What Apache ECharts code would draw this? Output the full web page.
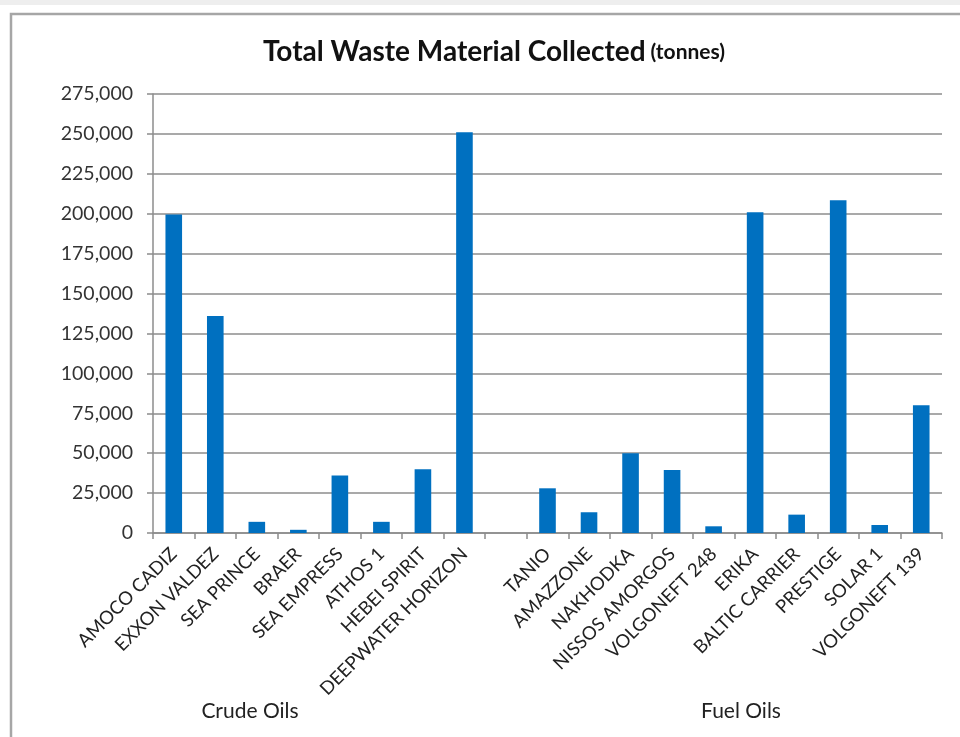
<!DOCTYPE html>
<html>
<head>
<meta charset="utf-8">
<script src="https://cdn.jsdelivr.net/npm/echarts@6/dist/echarts.min.js"></script>
<style>
  html, body { margin: 0; padding: 0; background: #fff; }
  #chart { width: 960px; height: 737px; }
</style>
</head>
<body>
<div id="chart"></div>
<script>
// 数据
const crudeOils = ['AMOCO CADIZ', 'EXXON VALDEZ', 'SEA PRINCE', 'BRAER', 'SEA EMPRESS', 'ATHOS 1', 'HEBEI SPIRIT', 'DEEPWATER HORIZON'];
const crudeValues = [199500, 136000, 7000, 2000, 36000, 7000, 40000, 251000];
const fuelOils = ['TANIO', 'AMAZZONE', 'NAKHODKA', 'NISSOS AMORGOS', 'VOLGONEFT 248', 'ERIKA', 'BALTIC CARRIER', 'PRESTIGE', 'SOLAR 1', 'VOLGONEFT 139'];
const fuelValues = [28000, 13000, 50000, 39500, 4200, 201000, 11500, 208500, 5000, 80000];
const groupNames = ['Crude Oils', 'Fuel Oils'];

// 两组之间留一个空位
const categories = [...crudeOils, '', ...fuelOils];
const values = [...crudeValues, null, ...fuelValues];

const FONT = 'Lato, "Noto Sans", sans-serif';

const chart = echarts.init(document.getElementById('chart'));

const option = {
    backgroundColor: '#fff',
    animation: false,
    title: {
        text: '{a|Total Waste Material Collected} {b|(tonnes)}',
        left: 489,
        top: 33,
        textAlign: 'center',
        textStyle: {
            rich: {
                a: { fontFamily: FONT, fontWeight: 'bold', fontSize: 28, color: '#111' },
                b: { fontFamily: FONT, fontWeight: 'bold', fontSize: 21, color: '#111' }
            }
        }
    },
    grid: { left: 153, right: 18, top: 94, bottom: 204, containLabel: false },
    xAxis: {
        type: 'category',
        data: categories,
        axisLine: { lineStyle: { color: '#8c8c8c', width: 1.5 } },
        axisTick: { show: true, length: 6, lineStyle: { color: '#8c8c8c', width: 1.5 } },
        axisLabel: {
            interval: 0,
            rotate: 45,
            margin: 18,
            fontFamily: FONT,
            fontSize: 18.5,
            color: '#222'
        }
    },
    yAxis: {
        type: 'value',
        min: 0,
        max: 275000,
        interval: 25000,
        axisLine: { show: true, lineStyle: { color: '#8c8c8c', width: 1.5 } },
        axisTick: { show: true, length: 6, lineStyle: { color: '#8c8c8c', width: 1.5 } },
        splitLine: { lineStyle: { color: '#8c8c8c', width: 1.5 } },
        axisLabel: {
            margin: 20,
            fontFamily: FONT,
            fontSize: 19.5,
            color: '#333',
            formatter: v => v.toLocaleString('en-US')
        }
    },
    series: [{
        type: 'bar',
        data: values,
        barWidth: '40%',
        itemStyle: { color: '#0070c0' }
    }],
    graphic: [
        // 顶部灰条和外框
        { type: 'rect', shape: { x: 0, y: 0, width: 960, height: 5 }, style: { fill: '#eeeeee' }, silent: true },
        { type: 'rect', shape: { x: 11, y: 14, width: 980, height: 760 }, style: { fill: 'none', stroke: '#a6a6a6', lineWidth: 2.5 }, silent: true },
        // 分组标签
        { type: 'text', x: 250, y: 711, style: { text: groupNames[0], font: '21px ' + FONT, fill: '#222', textAlign: 'center', textVerticalAlign: 'middle' } },
        { type: 'text', x: 741, y: 711, style: { text: groupNames[1], font: '21px ' + FONT, fill: '#222', textAlign: 'center', textVerticalAlign: 'middle' } }
    ]
};

chart.setOption(option);
</script>
</body>
</html>
